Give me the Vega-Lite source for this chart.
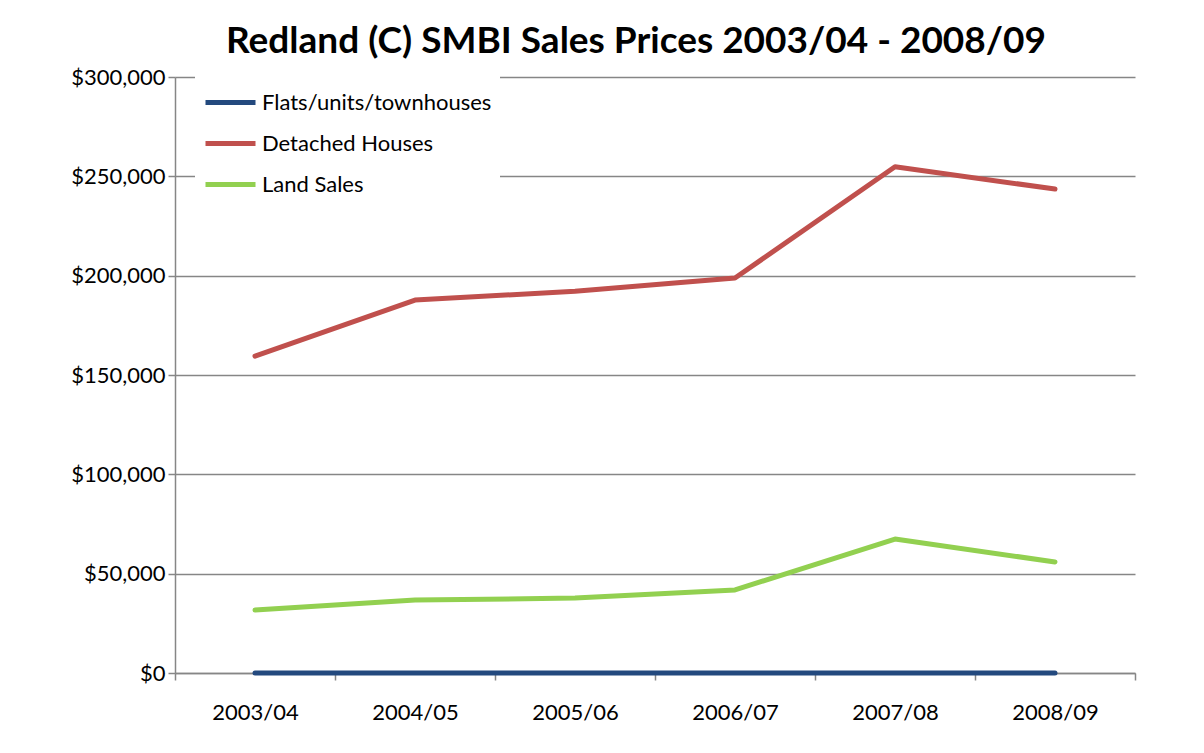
{
  "$schema": "https://vega.github.io/schema/vega-lite/v6.json",
  "width": 960,
  "height": 596,
  "autosize": {"type": "none"},
  "padding": {"left": 175, "top": 77, "right": 69, "bottom": 80},
  "background": "white",
  "title": {
    "text": "Redland (C) SMBI Sales Prices 2003/04 - 2008/09",
    "font": "Lato",
    "fontSize": 37,
    "fontWeight": "bold",
    "color": "black",
    "anchor": "middle",
    "frame": "group",
    "baseline": "alphabetic",
    "offset": 22,
    "dx": -19,
    "dy": 46
  },
  "data": {
    "values": [
      {"year": "2003/04", "series": "Flats/units/townhouses", "value": 0},
      {"year": "2004/05", "series": "Flats/units/townhouses", "value": 0},
      {"year": "2005/06", "series": "Flats/units/townhouses", "value": 0},
      {"year": "2006/07", "series": "Flats/units/townhouses", "value": 0},
      {"year": "2007/08", "series": "Flats/units/townhouses", "value": 0},
      {"year": "2008/09", "series": "Flats/units/townhouses", "value": 0},
      {"year": "2003/04", "series": "Detached Houses", "value": 159500},
      {"year": "2004/05", "series": "Detached Houses", "value": 187700},
      {"year": "2005/06", "series": "Detached Houses", "value": 192200},
      {"year": "2006/07", "series": "Detached Houses", "value": 198800},
      {"year": "2007/08", "series": "Detached Houses", "value": 254800},
      {"year": "2008/09", "series": "Detached Houses", "value": 243600},
      {"year": "2003/04", "series": "Land Sales", "value": 31700},
      {"year": "2004/05", "series": "Land Sales", "value": 36700},
      {"year": "2005/06", "series": "Land Sales", "value": 37700},
      {"year": "2006/07", "series": "Land Sales", "value": 41800},
      {"year": "2007/08", "series": "Land Sales", "value": 67400},
      {"year": "2008/09", "series": "Land Sales", "value": 55900}
    ]
  },
  "mark": {"type": "line", "strokeWidth": 5, "strokeCap": "round", "strokeJoin": "round"},
  "encoding": {
    "x": {
      "field": "year",
      "type": "ordinal",
      "scale": {"type": "band", "paddingInner": 0, "paddingOuter": 0},
      "axis": {
        "title": null,
        "labelAngle": 0,
        "tickBand": "extent",
        "grid": false,
        "domainColor": "#868686",
        "domainWidth": 1.5,
        "tickColor": "#868686",
        "tickWidth": 1.5,
        "tickSize": 7,
        "labelFont": "Lato",
        "labelFontSize": 22,
        "labelColor": "black",
        "labelPadding": 22
      }
    },
    "y": {
      "field": "value",
      "type": "quantitative",
      "scale": {"domain": [0, 300000], "nice": false},
      "axis": {
        "title": null,
        "values": [0, 50000, 100000, 150000, 200000, 250000, 300000],
        "format": "$,.0f",
        "grid": true,
        "gridColor": "#868686",
        "gridWidth": 1.5,
        "domainColor": "#868686",
        "domainWidth": 1.5,
        "tickColor": "#868686",
        "tickWidth": 1.5,
        "tickSize": 7,
        "labelFont": "Lato",
        "labelFontSize": 22,
        "labelColor": "black",
        "labelPadding": 3
      }
    },
    "color": {
      "field": "series",
      "type": "nominal",
      "sort": ["Flats/units/townhouses", "Detached Houses", "Land Sales"],
      "scale": {
        "domain": ["Flats/units/townhouses", "Detached Houses", "Land Sales"],
        "range": ["#23497E", "#C0504D", "#92D050"]
      },
      "legend": {
        "title": null,
        "orient": "none",
        "legendX": 20,
        "legendY": -10,
        "fillColor": "white",
        "padding": 8,
        "symbolType": "stroke",
        "symbolSize": 2500,
        "symbolStrokeWidth": 5,
        "labelFont": "Lato",
        "labelFontSize": 22,
        "labelColor": "black",
        "labelOffset": 4,
        "labelLimit": 0,
        "rowPadding": 2
      }
    }
  },
  "config": {"view": {"stroke": null}}
}
